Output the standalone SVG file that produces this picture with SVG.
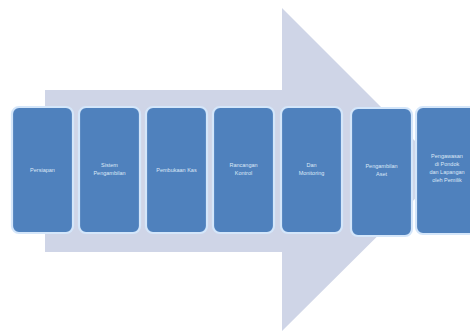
<svg xmlns="http://www.w3.org/2000/svg" width="470" height="331" viewBox="0 0 470 331">
<style>
.box{fill:#4f81bd;stroke:#d4e6fa;stroke-width:2.2}
.lbl{font-family:"Liberation Sans",Arial,sans-serif;font-size:5.5px;fill:#dce8f7;text-anchor:middle}
</style>
<rect width="470" height="331" fill="#ffffff"/>
<g id="arrow">
<polygon points="45,90 282,90 282,8 444,170 282,331 282,252 45,252" fill="#cfd5e7"/>
</g>
<g id="connectors"></g>
<g id="n1"><rect class="box" x="12" y="107" width="61" height="126" rx="7"/><text class="lbl" x="42.5" y="172">Persiapan</text></g>
<g id="n2"><rect class="box" x="79" y="107" width="61" height="126" rx="7"/><text class="lbl" x="109.5" y="167">Sistem</text><text class="lbl" x="109.5" y="175">Pengambilan</text></g>
<g id="n3"><rect class="box" x="146" y="107" width="61" height="126" rx="7"/><text class="lbl" x="176.5" y="172">Pembukaan Kas</text></g>
<g id="n4"><rect class="box" x="213" y="107" width="61" height="126" rx="7"/><text class="lbl" x="243.5" y="167">Rancangan</text><text class="lbl" x="243.5" y="175">Kontrol</text></g>
<g id="n5"><rect class="box" x="281" y="107" width="61" height="126" rx="7"/><text class="lbl" x="311.5" y="167">Dan</text><text class="lbl" x="311.5" y="175">Monitoring</text></g>
<g id="n6"><rect class="box" x="351" y="108" width="61" height="128" rx="7"/><text class="lbl" x="381.5" y="168">Pengambilan</text><text class="lbl" x="381.5" y="176">Aset</text></g>
<g id="n7"><rect class="box" x="416" y="107" width="62" height="127" rx="7"/><text class="lbl" x="447" y="158">Pengawasan</text><text class="lbl" x="447" y="166">di Pondok</text><text class="lbl" x="447" y="174">dan Lapangan</text><text class="lbl" x="447" y="182">oleh Pemilik</text></g>
</svg>
